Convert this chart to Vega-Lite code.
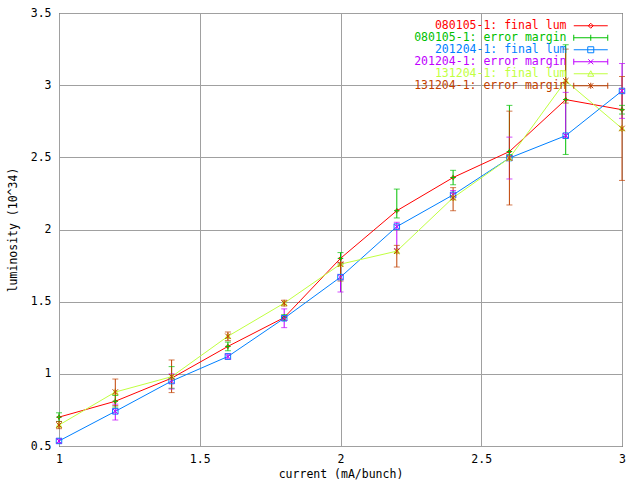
{
  "$schema": "https://vega.github.io/schema/vega-lite/v6.json",
  "width": 563,
  "height": 433,
  "autosize": {"type": "none"},
  "padding": {"left": 59, "top": 13, "right": 18, "bottom": 34},
  "background": "white",
  "config": {
    "view": {"stroke": "black", "strokeWidth": 1},
    "font": "DejaVu Sans Mono",
    "axis": {
      "domain": false,
      "grid": true,
      "gridColor": "#a0a0a0",
      "gridOpacity": 1,
      "gridWidth": 1,
      "ticks": false,
      "labelFont": "DejaVu Sans Mono",
      "labelFontSize": 11.5,
      "labelColor": "black",
      "labelFlush": false,
      "labelOverlap": false,
      "titleFont": "DejaVu Sans Mono",
      "titleFontSize": 11.5,
      "titleFontWeight": "normal",
      "titleColor": "black"
    },
    "legend": {
      "orient": "none",
      "legendX": 526,
      "legendY": 7,
      "padding": 0,
      "rowPadding": -1.7,
      "labelAlign": "right",
      "labelOffset": -30,
      "labelLimit": 300,
      "labelFont": "DejaVu Sans Mono",
      "labelFontSize": 11.5,
      "symbolSize": 100,
      "symbolOpacity": 1,
      "symbolStrokeWidth": 1,
      "symbolFillColor": "transparent"
    }
  },
  "data": {"values": [
    {"s": "080105-1: final lum", "x": 1.0, "y": 0.70},
    {"s": "080105-1: final lum", "x": 1.2, "y": 0.81},
    {"s": "080105-1: final lum", "x": 1.4, "y": 0.97},
    {"s": "080105-1: final lum", "x": 1.6, "y": 1.19},
    {"s": "080105-1: final lum", "x": 1.8, "y": 1.39},
    {"s": "080105-1: final lum", "x": 2.0, "y": 1.80},
    {"s": "080105-1: final lum", "x": 2.2, "y": 2.13},
    {"s": "080105-1: final lum", "x": 2.4, "y": 2.36},
    {"s": "080105-1: final lum", "x": 2.6, "y": 2.54},
    {"s": "080105-1: final lum", "x": 2.8, "y": 2.90},
    {"s": "080105-1: final lum", "x": 3.0, "y": 2.83},

    {"s": "080105-1: error margin", "x": 1.0, "y": 0.70, "lo": 0.67, "hi": 0.73},
    {"s": "080105-1: error margin", "x": 1.2, "y": 0.81, "lo": 0.77, "hi": 0.85},
    {"s": "080105-1: error margin", "x": 1.4, "y": 0.97, "lo": 0.90, "hi": 1.05},
    {"s": "080105-1: error margin", "x": 1.6, "y": 1.19, "lo": 1.16, "hi": 1.22},
    {"s": "080105-1: error margin", "x": 1.8, "y": 1.39, "lo": 1.37, "hi": 1.41},
    {"s": "080105-1: error margin", "x": 2.0, "y": 1.80, "lo": 1.76, "hi": 1.84},
    {"s": "080105-1: error margin", "x": 2.2, "y": 2.13, "lo": 2.08, "hi": 2.28},
    {"s": "080105-1: error margin", "x": 2.4, "y": 2.36, "lo": 2.31, "hi": 2.41},
    {"s": "080105-1: error margin", "x": 2.6, "y": 2.54, "lo": 2.52, "hi": 2.86},
    {"s": "080105-1: error margin", "x": 2.8, "y": 2.90, "lo": 2.52, "hi": 3.28},
    {"s": "080105-1: error margin", "x": 3.0, "y": 2.83, "lo": 2.80, "hi": 2.86},

    {"s": "201204-1: final lum", "x": 1.0, "y": 0.535},
    {"s": "201204-1: final lum", "x": 1.2, "y": 0.74},
    {"s": "201204-1: final lum", "x": 1.4, "y": 0.95},
    {"s": "201204-1: final lum", "x": 1.6, "y": 1.12},
    {"s": "201204-1: final lum", "x": 1.8, "y": 1.385},
    {"s": "201204-1: final lum", "x": 2.0, "y": 1.67},
    {"s": "201204-1: final lum", "x": 2.2, "y": 2.02},
    {"s": "201204-1: final lum", "x": 2.4, "y": 2.24},
    {"s": "201204-1: final lum", "x": 2.6, "y": 2.495},
    {"s": "201204-1: final lum", "x": 2.8, "y": 2.65},
    {"s": "201204-1: final lum", "x": 3.0, "y": 2.96},

    {"s": "201204-1: error margin", "x": 1.0, "y": 0.535, "lo": 0.52, "hi": 0.55},
    {"s": "201204-1: error margin", "x": 1.2, "y": 0.74, "lo": 0.68, "hi": 0.79},
    {"s": "201204-1: error margin", "x": 1.4, "y": 0.95, "lo": 0.895, "hi": 1.0},
    {"s": "201204-1: error margin", "x": 1.6, "y": 1.12, "lo": 1.10, "hi": 1.14},
    {"s": "201204-1: error margin", "x": 1.8, "y": 1.385, "lo": 1.32, "hi": 1.45},
    {"s": "201204-1: error margin", "x": 2.0, "y": 1.67, "lo": 1.567, "hi": 1.77},
    {"s": "201204-1: error margin", "x": 2.2, "y": 2.02, "lo": 1.865, "hi": 2.05},
    {"s": "201204-1: error margin", "x": 2.4, "y": 2.24, "lo": 2.21, "hi": 2.27},
    {"s": "201204-1: error margin", "x": 2.6, "y": 2.495, "lo": 2.35, "hi": 2.64},
    {"s": "201204-1: error margin", "x": 2.8, "y": 2.65, "lo": 2.64, "hi": 2.95},
    {"s": "201204-1: error margin", "x": 3.0, "y": 2.96, "lo": 2.77, "hi": 3.15},

    {"s": "131204-1: final lum", "x": 1.0, "y": 0.645},
    {"s": "131204-1: final lum", "x": 1.2, "y": 0.874},
    {"s": "131204-1: final lum", "x": 1.4, "y": 0.98},
    {"s": "131204-1: final lum", "x": 1.6, "y": 1.26},
    {"s": "131204-1: final lum", "x": 1.8, "y": 1.49},
    {"s": "131204-1: final lum", "x": 2.0, "y": 1.76},
    {"s": "131204-1: final lum", "x": 2.2, "y": 1.85},
    {"s": "131204-1: final lum", "x": 2.4, "y": 2.22},
    {"s": "131204-1: final lum", "x": 2.6, "y": 2.495},
    {"s": "131204-1: final lum", "x": 2.8, "y": 3.03},
    {"s": "131204-1: final lum", "x": 3.0, "y": 2.70},

    {"s": "131204-1: error margin", "x": 1.0, "y": 0.645, "lo": 0.62, "hi": 0.67},
    {"s": "131204-1: error margin", "x": 1.2, "y": 0.874, "lo": 0.78, "hi": 0.964},
    {"s": "131204-1: error margin", "x": 1.4, "y": 0.98, "lo": 0.87, "hi": 1.096},
    {"s": "131204-1: error margin", "x": 1.6, "y": 1.26, "lo": 1.23, "hi": 1.29},
    {"s": "131204-1: error margin", "x": 1.8, "y": 1.49, "lo": 1.47, "hi": 1.51},
    {"s": "131204-1: error margin", "x": 2.0, "y": 1.76, "lo": 1.643, "hi": 1.77},
    {"s": "131204-1: error margin", "x": 2.2, "y": 1.85, "lo": 1.74, "hi": 1.89},
    {"s": "131204-1: error margin", "x": 2.4, "y": 2.22, "lo": 2.13, "hi": 2.29},
    {"s": "131204-1: error margin", "x": 2.6, "y": 2.495, "lo": 2.17, "hi": 2.82},
    {"s": "131204-1: error margin", "x": 2.8, "y": 3.03, "lo": 2.876, "hi": 3.25},
    {"s": "131204-1: error margin", "x": 3.0, "y": 2.70, "lo": 2.34, "hi": 3.06}
  ]},
  "encoding": {
    "x": {
      "field": "x", "type": "quantitative",
      "scale": {"domain": [1, 3], "nice": false, "zero": false},
      "axis": {"values": [1, 1.5, 2, 2.5, 3], "format": "~g", "labelPadding": 7, "titlePadding": 4, "title": "current (mA/bunch)"}
    }
  },
  "resolve": {"scale": {"shape": "independent"}, "legend": {"shape": "independent", "color": "independent"}},
  "layer": [
    {
      "transform": [{"filter": "!isValid(datum.lo)"}],
      "mark": {"type": "line", "strokeWidth": 1},
      "encoding": {
        "y": {
          "field": "y", "type": "quantitative",
          "scale": {"domain": [0.5, 3.5], "nice": false, "zero": false},
          "axis": {"values": [0.5, 1, 1.5, 2, 2.5, 3, 3.5], "format": "~g", "labelPadding": 8, "titlePadding": 12, "title": "luminosity (10^34)"}
        },
        "color": {
          "field": "s", "type": "nominal", "legend": null,
          "scale": {
            "domain": ["080105-1: final lum", "080105-1: error margin", "201204-1: final lum", "201204-1: error margin", "131204-1: final lum", "131204-1: error margin"],
            "range": ["#ff0000", "#00c000", "#0080ff", "#c000ff", "#c0ff40", "#c04000"]
          }
        },
        "order": {"field": "x", "type": "quantitative"}
      }
    },
    {
      "transform": [{"filter": "isValid(datum.lo)"}],
      "mark": {"type": "rule", "strokeWidth": 1},
      "encoding": {
        "y": {"field": "lo", "type": "quantitative"},
        "y2": {"field": "hi"},
        "color": {"field": "s", "type": "nominal", "legend": null}
      }
    },
    {
      "transform": [{"filter": "isValid(datum.lo)"}],
      "mark": {"type": "tick", "orient": "horizontal", "size": 6, "thickness": 1},
      "encoding": {
        "y": {"field": "lo", "type": "quantitative"},
        "color": {"field": "s", "type": "nominal", "legend": null}
      }
    },
    {
      "transform": [{"filter": "isValid(datum.lo)"}],
      "mark": {"type": "tick", "orient": "horizontal", "size": 6, "thickness": 1},
      "encoding": {
        "y": {"field": "hi", "type": "quantitative"},
        "color": {"field": "s", "type": "nominal", "legend": null}
      }
    },
    {
      "mark": {"type": "point", "filled": false, "strokeWidth": 1, "opacity": 1, "size": 30},
      "encoding": {
        "y": {"field": "y", "type": "quantitative"},
        "color": {"field": "s", "type": "nominal", "legend": null},
        "shape": {
          "field": "s", "type": "nominal", "legend": null,
          "scale": {
            "domain": ["080105-1: final lum", "080105-1: error margin", "201204-1: final lum", "201204-1: error margin", "131204-1: final lum", "131204-1: error margin"],
            "range": ["M0,-0.7L0.7,0L0,0.7L-0.7,0Z", "M-1,0H1M0,-1V1", "M-1,-1H1V1H-1Z", "M-1,-1L1,1M-1,1L1,-1", "M0,-1L1,0.8H-1Z", "M-1,-1L1,1M-1,1L1,-1M0,-1.2V1.2"]
          }
        }
      }
    },
    {
      "transform": [{"filter": "datum.x > 100"}],
      "mark": {"type": "point", "filled": false, "strokeWidth": 1, "opacity": 1, "size": 100},
      "encoding": {
        "y": {"field": "y", "type": "quantitative"},
        "color": {
          "field": "s", "type": "nominal",
          "legend": {
            "title": null,
            "labelColor": {"expr": "scale('color', datum.value)"},
            "encode": {
              "labels": {"update": {"fill": {"scale": "color", "field": "value"}}}
            }
          }
        },
        "shape": {
          "field": "s", "type": "nominal", "legend": null,
          "scale": {
            "domain": ["080105-1: final lum", "080105-1: error margin", "201204-1: final lum", "201204-1: error margin", "131204-1: final lum", "131204-1: error margin"],
            "range": ["M-3.4,0H3.4M0,-0.5L0.5,0L0,0.5L-0.5,0Z", "M-3.4,0H3.4M-3.4,-0.6V0.6M3.4,-0.6V0.6M0,-0.6V0.6", "M-3.4,0H3.4M-0.6,-0.6H0.6V0.6H-0.6Z", "M-3.4,0H3.4M-3.4,-0.6V0.6M3.4,-0.6V0.6M-0.5,-0.5L0.5,0.5M-0.5,0.5L0.5,-0.5", "M-3.4,0H3.4M0,-0.6L0.6,0.5H-0.6Z", "M-3.4,0H3.4M-3.4,-0.6V0.6M3.4,-0.6V0.6M-0.5,-0.5L0.5,0.5M-0.5,0.5L0.5,-0.5M0,-0.6V0.6"]
          }
        }
      }
    }
  ]
}
